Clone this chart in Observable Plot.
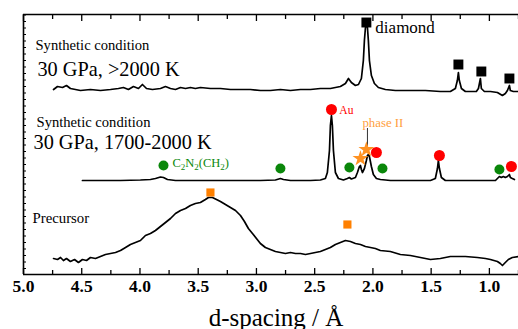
<!DOCTYPE html>
<html><head><meta charset="utf-8">
<script src="https://cdn.jsdelivr.net/npm/d3@7"></script>
<script src="https://cdn.jsdelivr.net/npm/@observablehq/plot@0.6"></script>
<style>body{margin:0;background:#fff}</style>
</head><body><div id="chart"></div>
<script>
// x: d-spacing (Å), y: intensity (arbitrary units, stacked)
const topSpec = [[4.742,185],[4.708,188],[4.665,187],[4.631,189],[4.597,186],[4.554,185],[4.511,184],[4.425,185],[4.339,184],[4.253,185],[4.185,186],[4.142,187],[4.099,185],[4.056,188],[4.013,186],[3.979,190],[3.944,186],[3.893,185],[3.824,186],[3.781,188],[3.738,186],[3.695,185],[3.652,187],[3.609,186],[3.567,187],[3.524,186],[3.481,187],[3.395,186],[3.309,186],[3.223,185],[3.137,185],[3.052,185],[2.966,184],[2.880,184],[2.794,185],[2.708,184],[2.622,185],[2.536,185],[2.451,186],[2.365,186],[2.279,188],[2.236,191],[2.210,196],[2.185,192],[2.150,189],[2.124,190],[2.099,196],[2.082,214],[2.073,234],[2.064,247],[2.056,249],[2.047,247],[2.039,234],[2.030,214],[2.013,199],[1.987,191],[1.953,187],[1.893,185],[1.807,184],[1.678,184],[1.549,184],[1.421,183],[1.335,183],[1.292,186],[1.275,194],[1.266,202],[1.258,194],[1.240,186],[1.206,183],[1.163,183],[1.112,183],[1.094,186],[1.077,196],[1.069,186],[1.043,183],[0.991,183],[0.931,182],[0.888,179],[0.863,181],[0.845,184],[0.828,189],[0.820,184],[0.794,183],[0.751,183]];
const midSpec = [[4.494,94],[4.339,94],[4.167,94],[3.996,94.5],[3.910,95],[3.867,96],[3.824,97.5],[3.798,97],[3.764,95],[3.695,94],[3.481,94],[3.223,94],[2.966,94],[2.837,94.5],[2.794,96],[2.768,95],[2.708,94],[2.536,94],[2.451,94.5],[2.408,96],[2.391,102],[2.373,124],[2.365,149],[2.356,159],[2.348,149],[2.339,124],[2.322,102],[2.296,96],[2.253,94.5],[2.219,96],[2.202,97],[2.185,95.5],[2.150,97],[2.133,102],[2.116,108],[2.107,109],[2.099,105],[2.090,102],[2.073,106],[2.056,114],[2.047,119],[2.039,120],[2.030,118],[2.013,108],[1.996,100],[1.970,96],[1.936,95],[1.850,94],[1.678,94],[1.506,94],[1.464,96],[1.446,106],[1.438,114],[1.429,106],[1.412,97],[1.378,94],[1.249,94],[1.077,94],[0.948,94],[0.931,96],[0.914,98],[0.897,97],[0.880,98],[0.863,97],[0.845,98],[0.828,100],[0.820,97],[0.803,96],[0.785,95]];
const botSpec = [[4.742,16],[4.708,15],[4.682,17],[4.657,14],[4.631,16],[4.597,13],[4.562,15],[4.528,12],[4.494,15],[4.459,14],[4.425,17],[4.382,16],[4.339,18],[4.296,20],[4.253,21],[4.210,22],[4.167,24],[4.124,27],[4.082,30],[4.039,32],[3.996,34],[3.953,39],[3.910,41],[3.867,44],[3.824,48],[3.781,52],[3.738,56],[3.695,61],[3.652,64],[3.609,66],[3.567,69],[3.524,71],[3.481,72],[3.438,75],[3.412,77],[3.378,77],[3.343,75],[3.309,73],[3.266,70],[3.223,67],[3.180,64],[3.137,59],[3.103,53],[3.069,46],[3.034,41],[3.000,36],[2.966,31],[2.923,27],[2.880,25],[2.837,23],[2.794,22],[2.751,21],[2.708,22],[2.665,21],[2.622,21],[2.579,20],[2.536,21],[2.494,22],[2.451,23],[2.408,25],[2.365,27],[2.322,30],[2.279,32],[2.236,34],[2.193,33],[2.150,31],[2.107,30],[2.064,28],[2.021,27],[1.979,26],[1.936,24],[1.850,23],[1.764,20],[1.678,19],[1.592,17],[1.506,15],[1.421,16],[1.335,18],[1.275,18],[1.206,18],[1.103,17],[1.034,16],[0.991,15],[0.931,13],[0.906,11],[0.888,9],[0.863,12],[0.837,15],[0.803,17],[0.751,18]];

const diamondMarks = [[2.056,252],[1.266,210],[1.069,203],[0.828,196]];
const auMarks = [[2.356,165],[1.970,122],[1.429,119],[0.811,108]];
const c2n2Marks = [[3.798,109],[2.794,106],[2.202,107],[1.918,106],[0.914,105]];
const phaseIIMarks = [[2.107,116],[2.056,125]];
const precursorMarks = [[3.395,82],[2.219,50]];

const labels = [
  {d:4.897, I:229, text:"Synthetic condition", size:14.6, color:"#000"},
  {d:4.880, I:205, text:"30 GPa, >2000 K", size:20.3, color:"#000"},
  {d:4.888, I:152, text:"Synthetic condition", size:14.6, color:"#000"},
  {d:4.914, I:132, text:"30 GPa, 1700-2000 K", size:20.3, color:"#000"},
  {d:4.923, I:56, text:"Precursor", size:14.8, color:"#000"},
  {d:1.979, I:247, text:"diamond", size:17, color:"#000"},
  {d:2.288, I:164, text:"Au", size:11.5, color:"#ff0000"},
  {d:2.090, I:152, text:"phase II", size:12.8, color:"#ffa040"},
  {d:3.721, I:112, text:"C2N2(CH2)", size:12.5, color:"#0a870a"}
];
const leader = [{d:2.047, I1:128, I2:146}];

const majorTicks = [5.0,4.5,4.0,3.5,3.0,2.5,2.0,1.5,1.0];
const minorTicks = [4.75,4.25,3.75,3.25,2.75,2.25,1.75,1.25,0.75];
const yMinor = d3.range(6, 260, 6.5);

const FONT = "'Liberation Serif', 'Times New Roman', serif";
const toObj = a => a.map(([d, I]) => ({d, I}));
const spectra = [
  ...toObj(topSpec).map(p => ({...p, s:"top"})),
  ...toObj(midSpec).map(p => ({...p, s:"mid"})),
  ...toObj(botSpec).map(p => ({...p, s:"bot"}))
];
const noLab = () => "";

const chart = Plot.plot({
  width: 518, height: 329,
  marginLeft: 23, marginRight: 0, marginTop: 14, marginBottom: 55,
  x: {domain: [5.0, 0.75]},
  y: {domain: [0, 260]},
  style: {fontFamily: FONT, background: "#fff", color: "#000", overflow: "visible"},
  marks: [
    Plot.axisX({anchor: "bottom", ticks: majorTicks, tickSize: -6, tickFormat: noLab, label: null, strokeWidth: 1.3}),
    Plot.axisX({anchor: "bottom", ticks: minorTicks, tickSize: -4, tickFormat: noLab, label: null, strokeWidth: 1.3}),
    Plot.axisX({anchor: "top", ticks: majorTicks, tickSize: -6, tickFormat: noLab, label: null, strokeWidth: 1.3}),
    Plot.axisX({anchor: "top", ticks: minorTicks, tickSize: -4, tickFormat: noLab, label: null, strokeWidth: 1.3}),
    Plot.axisX({anchor: "bottom", ticks: majorTicks, tickSize: 0, tickPadding: 5, tickFormat: d3.format(".1f"), label: null, fontSize: 17.5, fontWeight: "bold", fontFamily: FONT}),
    Plot.axisY({anchor: "left", ticks: yMinor, tickSize: -3, tickFormat: noLab, label: null}),
    Plot.ruleY([0, 260], {strokeWidth: 1.6}),
    Plot.ruleX([5.0], {strokeWidth: 1.6}),
    Plot.line(spectra, {x: "d", y: "I", z: "s", stroke: "#000", strokeWidth: 1.7}),
    Plot.ruleX(leader, {x: "d", y1: "I1", y2: "I2", stroke: "#333", strokeWidth: 1}),
    Plot.dot(toObj(diamondMarks), {x: "d", y: "I", symbol: "square", r: 5.6, fill: "#000"}),
    Plot.dot(toObj(auMarks), {x: "d", y: "I", r: 5.5, fill: "#ff0000"}),
    Plot.dot(toObj(c2n2Marks), {x: "d", y: "I", r: 5, fill: "#0a870a"}),
    Plot.dot(toObj(phaseIIMarks), {x: "d", y: "I", symbol: "star", r: 5, fill: "#ff9222"}),
    Plot.dot(toObj(precursorMarks), {x: "d", y: "I", symbol: "square", r: 4.6, fill: "#ff8000"}),
    Plot.text(labels, {x: "d", y: "I", text: "text", fontSize: "size", fill: "color", textAnchor: "start", lineAnchor: "middle", fontFamily: FONT}),
    Plot.text(["d-spacing / Å"], {frameAnchor: "bottom", dy: 43, dx: 5, fontSize: 25, lineAnchor: "middle", fontFamily: FONT})
  ]
});
document.getElementById("chart").append(chart);

// subscripts in the chemical formula label
d3.select(chart).selectAll("text").each(function() {
  if (this.textContent === "C2N2(CH2)") {
    const t = d3.select(this);
    t.text("");
    const parts = [["C",0],["2",1],["N",0],["2",1],["(CH",0],["2",1],[")",0]];
    parts.forEach(([s, sub]) => {
      const sp = t.append("tspan").text(s);
      if (sub) sp.attr("font-size", "9px").attr("baseline-shift", "-3px");
    });
  }
});
</script></body></html>
